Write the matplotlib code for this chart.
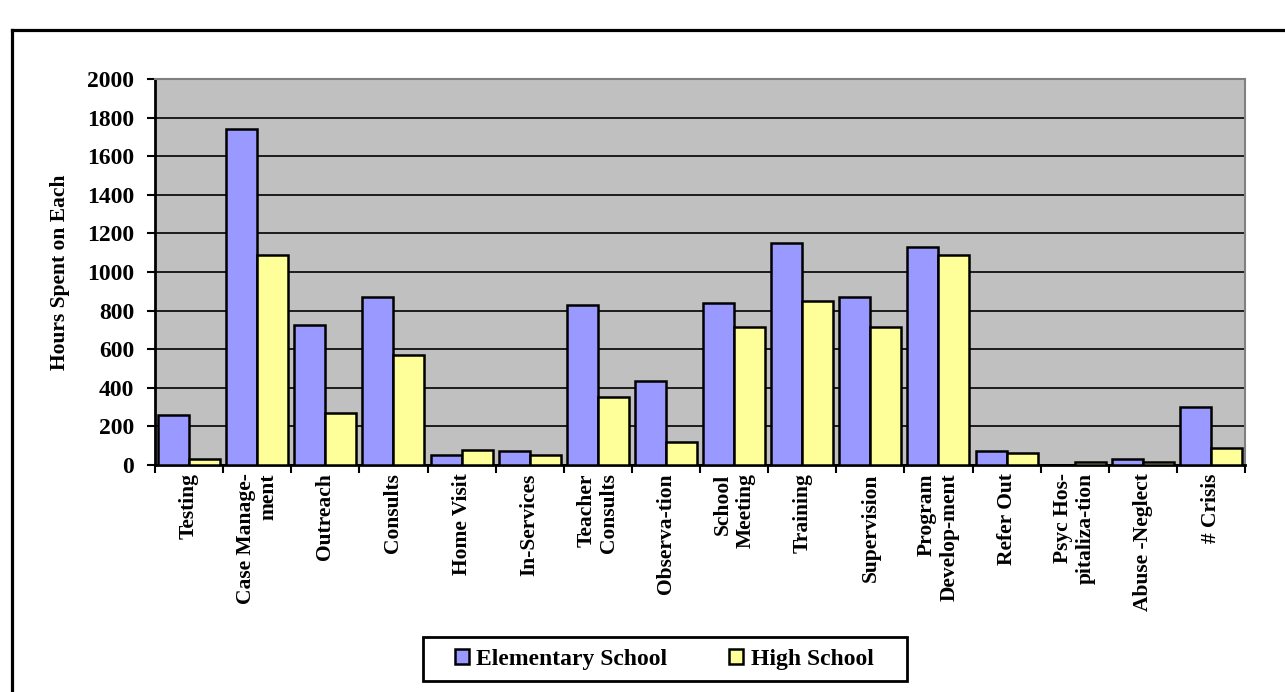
import matplotlib
matplotlib.use('Agg')
import matplotlib.pyplot as plt
from matplotlib.patches import Rectangle
from matplotlib.lines import Line2D
import numpy as np

plt.rcParams['font.family'] = ['Liberation Serif', 'DejaVu Serif']
plt.rcParams['font.weight'] = 'bold'

categories = ['Testing', 'Case Manage-\nment', 'Outreach', 'Consults', 'Home Visit',
              'In-Services', 'Teacher\nConsults', 'Observa-tion', 'School\nMeeting',
              'Training', 'Supervision', 'Program\nDevelop-ment', 'Refer Out',
              'Psyc Hos-\npitaliza-tion', 'Abuse -Neglect', '# Crisis']
elementary = [260, 1740, 725, 870, 50, 70, 830, 435, 840, 1150, 870, 1130, 70, 0, 30, 300]
high_school = [30, 1090, 270, 570, 80, 50, 350, 120, 715, 850, 715, 1090, 60, 15, 15, 90]
series_names = ['Elementary School', 'High School']
y_ticks = list(range(0, 2001, 200))

W, H = 1285, 692
fig = plt.figure(figsize=(W / 100, H / 100), dpi=100)
fig.patch.set_facecolor('white')

# outer frame (cut off on right and bottom)
fig.add_artist(Line2D([12 / W, 12 / W], [0, 1 - 30 / H], color='black', lw=2.3,
                      transform=fig.transFigure, solid_capstyle='projecting'))
fig.add_artist(Line2D([12 / W, 1], [1 - 30 / H, 1 - 30 / H], color='black', lw=2.3,
                      transform=fig.transFigure, solid_capstyle='projecting'))

ax = fig.add_axes([155 / W, 1 - 465 / H, 1090 / W, 386 / H])
ax.set_facecolor('#C0C0C0')

x = np.arange(len(categories))
w = 0.455
b1 = ax.bar(x - w / 2, elementary, w, color='#9999FF', edgecolor='black', linewidth=1.8,
            label=series_names[0], zorder=3)
b2 = ax.bar(x + w / 2, high_school, w, color='#FFFF99', edgecolor='black', linewidth=1.8,
            label=series_names[1], zorder=3)

ax.set_xlim(-0.5, len(categories) - 0.5)
ax.set_ylim(0, 2000)
ax.set_yticks(y_ticks)
ax.set_yticklabels([str(v) for v in y_ticks], fontsize=17, fontweight='bold')
ax.yaxis.grid(True, color='black', linewidth=1.2, zorder=1)
ax.set_axisbelow(True)

ax.set_xticks(x)
ax.set_xticklabels(categories, rotation=90, fontsize=15.5, fontweight='bold',
                   va='top', ha='center', multialignment='right')
ax.set_xticks(np.arange(-0.5, len(categories)), minor=True)
ax.tick_params(axis='x', which='major', length=0, pad=6)
ax.tick_params(axis='x', which='minor', length=6, width=1.5, direction='out')
ax.tick_params(axis='y', length=6, width=1.5, direction='out', pad=9)

ax.set_ylabel('Hours Spent on Each', fontsize=15.5, fontweight='bold')
ax.yaxis.set_label_coords(-0.078, 0.5)

for side in ['top', 'right']:
    ax.spines[side].set_color('#808080')
    ax.spines[side].set_linewidth(1.5)
for side in ['left', 'bottom']:
    ax.spines[side].set_color('black')
    ax.spines[side].set_linewidth(2)

# legend box
fig.add_artist(Rectangle((423 / W, 1 - 681 / H), 484 / W, 44 / H, transform=fig.transFigure,
                         facecolor='white', edgecolor='black', linewidth=2))
fig.legend([b1, b2], series_names, loc='center', bbox_to_anchor=(664 / W, 1 - 659 / H),
           ncol=2, frameon=False, prop={'family': 'Liberation Serif', 'weight': 'bold', 'size': 17},
           handlelength=0.62, handleheight=0.62, handletextpad=0.3, columnspacing=2.6)

fig.savefig('out.png', dpi=100)
